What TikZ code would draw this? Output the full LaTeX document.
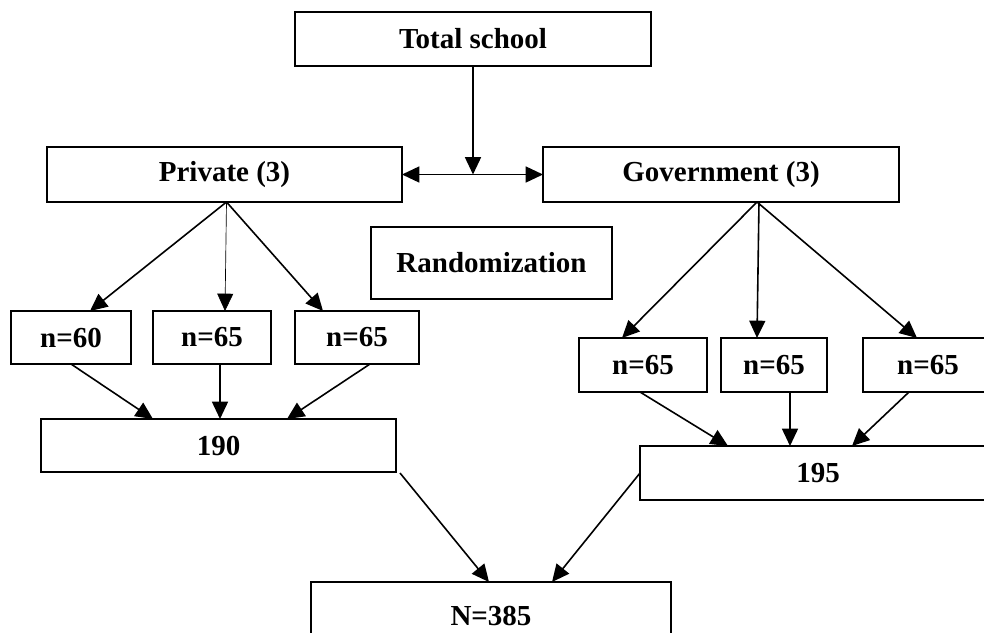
\documentclass[tikz,border=0pt]{standalone}
\usepackage{fontspec}
\setmainfont{Liberation Serif}
\usetikzlibrary{arrows.meta,calc}
\tikzset{
  box/.style 2 args={draw=black, line width=1.4pt, inner sep=0pt, outer sep=0pt,
    minimum width=#1*0.75pt, minimum height=#2*0.75pt,
    font=\fontsize{21.75}{24}\selectfont\bfseries},
  conn/.style={line width=1.2pt, -{Triangle[length=13pt,width=12pt]}},
  thinconn/.style={line width=0.5pt, -{Triangle[length=13pt,width=12pt]}},
}
\begin{document}
\begin{tikzpicture}[x=0.75pt,y=-0.75pt]
\useasboundingbox (0,0) rectangle (984,632);
\clip (0,0) rectangle (984,632);
\node[box={356}{54}] (top) at (473,39) {Total school};
\node[box={355}{55}] (priv) at (224.5,174.5) {Private (3)};
\node[box={356}{55}] (gov) at (721,174.5) {Government (3)};
\node[box={241}{72}] (rand) at (491.5,263) {Randomization};
\node[box={120}{53}] (p1) at (71,337.5) {n=60};
\node[box={118}{53}] (p2) at (212,337.5) {n=65};
\node[box={124}{53}] (p3) at (357,337.5) {n=65};
\node[box={355}{53}] (s190) at (218.5,445.5) {190};
\node[box={128}{54}] (g1) at (643,365) {n=65};
\node[box={106}{54}] (g2) at (774,365) {n=65};
\node[box={130}{54}] (g3) at (928,365) {n=65};
\node[box={356}{54}] (s195) at (818,473) {195};
\node[box={360}{68}] (N) at (491,616) {N=385};
\coordinate (mid) at (473,174.5);
% top split
\draw[conn] (top.south) -- (mid);
\draw[conn] (mid) -- (priv.east);
\draw[conn] (mid) -- (gov.west);
% private branches
\draw[conn] ($(priv.south)+(2,0)$) -- ($(p1.north)+(19,0)$);
\draw[thinconn] ($(priv.south)+(2,0)$) -- ($(p2.north)+(13,0)$);
\draw[conn] ($(priv.south)+(2,0)$) -- ($(p3.north)+(-34,0)$);
\draw[conn] (p1.south) -- ($(s190.north)+(-65.5,0)$);
\draw[conn] ($(p2.south)+(8,0)$) -- ($(s190.north)+(1.5,0)$);
\draw[conn] ($(p3.south)+(13,0)$) -- ($(s190.north)+(68.5,0)$);
% government branches
\draw[conn] ($(gov.south)+(36,0)$) -- ($(g1.north)+(-21,0)$);
\draw[conn] ($(gov.south)+(38,0)$) -- ($(g2.north)+(-17,0)$);
\draw[conn] ($(gov.south)+(36,0)$) -- ($(g3.north)+(-11,0)$);
\draw[conn] ($(g1.south)+(-3,0)$) -- ($(s195.north)+(-90,0)$);
\draw[conn] ($(g2.south)+(16,0)$) -- ($(s195.north)+(-28,0)$);
\draw[conn] ($(g3.south)+(-19,0)$) -- ($(s195.north)+(34,0)$);
% to total
\draw[conn] ($(s190.south east)+(4,1)$) -- ($(N.north)+(-2,0)$);
\draw[conn] (s195.west) -- ($(N.north)+(61,0)$);
\end{tikzpicture}
\end{document}
